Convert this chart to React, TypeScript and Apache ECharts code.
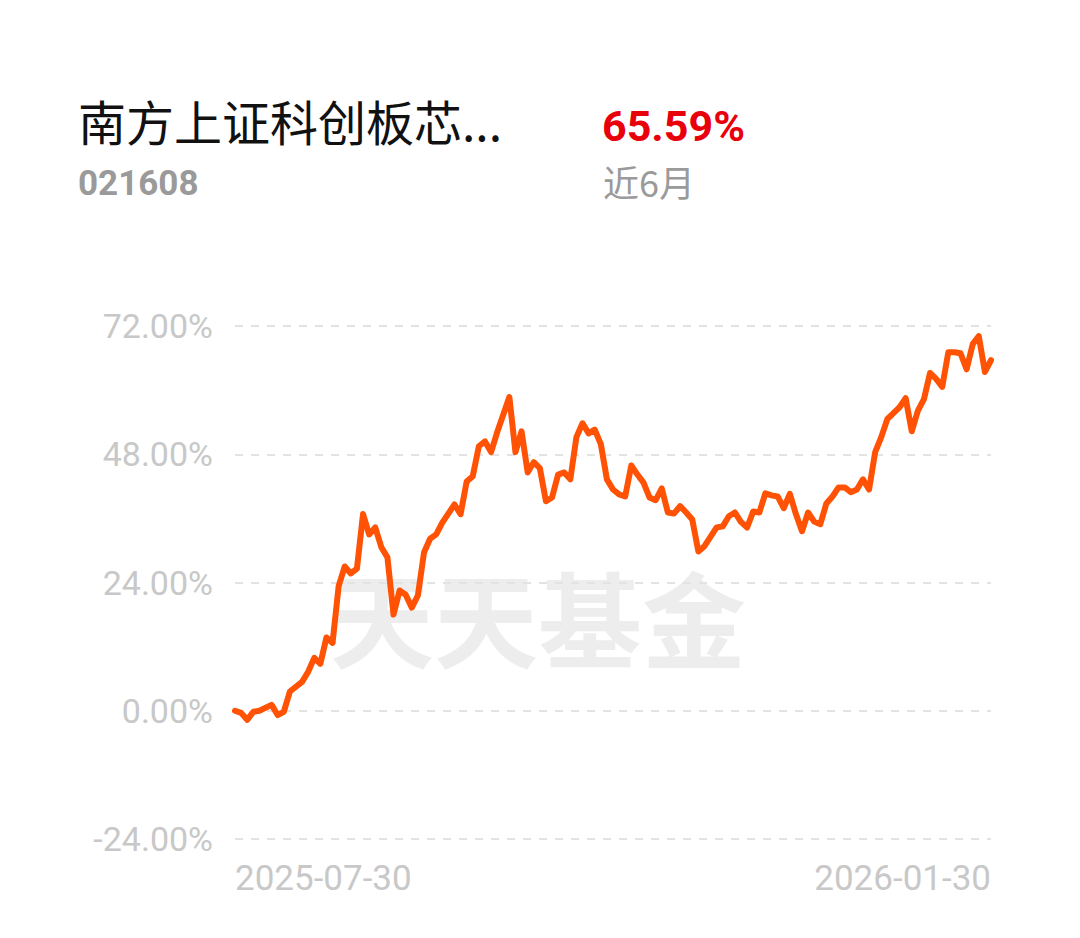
import React, { useEffect, useRef } from "react";
import * as echarts from "echarts";

// trading-day index (0 = 2025-07-30, 124 = 2026-01-30)
const dayIndex = [
  0, 1, 2, 3, 4, 6, 7, 8, 9, 11, 12, 13, 14, 15, 16, 17, 18, 19, 20, 21,
  22, 23, 24, 25, 26, 27, 28, 29, 30, 31, 32, 33, 34, 36, 37, 38, 39, 40, 41, 42,
  43, 45, 46, 47, 48, 49, 50, 51, 52, 53, 54, 55, 56, 57, 58, 59, 60, 61, 62, 63,
  64, 65, 66, 67, 68, 69, 70, 71, 72, 73, 74, 75, 76, 77, 79, 80, 81, 82, 83, 84,
  85, 86, 87, 88, 89, 90, 91, 92, 93, 94, 95, 96, 97, 98, 99, 100, 101, 102, 103, 104,
  105, 106, 107, 108, 109, 110, 111, 112, 113, 114, 115, 116, 117, 118, 119, 120, 121, 122, 123, 124,
];
// cumulative return, %
const returns = [
  0.0, -0.4, -1.7, -0.2, 0.0, 1.1, -0.8, -0.2, 3.6, 5.4, 7.3, 9.9, 8.8, 13.7, 12.7, 23.3, 27.0, 25.7, 26.6, 36.8,
  33.0, 34.3, 30.6, 28.7, 18.0, 22.5, 21.7, 19.3, 21.6, 29.6, 32.2, 33.0, 35.2, 38.6, 36.8, 42.9, 43.9, 49.5, 50.4, 48.4,
  52.1, 58.7, 48.4, 52.3, 44.6, 46.5, 45.4, 39.2, 39.9, 44.2, 44.6, 43.3, 51.2, 53.8, 51.9, 52.6, 49.9, 43.3, 41.4, 40.5,
  40.1, 45.9, 44.2, 42.7, 39.9, 39.4, 41.6, 37.1, 36.9, 38.3, 37.1, 35.8, 29.8, 30.8, 34.3, 34.5, 36.4, 37.1, 35.3, 34.3,
  37.3, 37.1, 40.7, 40.3, 40.1, 37.9, 40.6, 36.8, 33.6, 37.1, 35.4, 34.9, 38.8, 40.1, 41.8, 41.8, 40.9, 41.4, 43.3, 41.4,
  48.4, 51.2, 54.6, 55.7, 56.8, 58.5, 52.3, 56.1, 58.3, 63.2, 62.1, 60.6, 67.1, 67.1, 66.9, 63.9, 68.6, 70.1, 63.4, 65.59,
];
const xTickLabels = ["2025-07-30", "2026-01-30"];
const yTicks = { min: -24, max: 72, interval: 24 };

const fundName = "南方上证科创板芯...";
const fundCode = "021608";
const periodReturn = "65.59%";
const periodLabel = "近6月";
const watermark = "天天基金";

export default function App() {
  const ref = useRef<HTMLDivElement>(null);
  useEffect(() => {
    if (!ref.current) return;
    const chart = echarts.init(ref.current, undefined, { renderer: "svg" });
    const lastIdx = dayIndex[dayIndex.length - 1];
    chart.setOption({
      animation: false,
      backgroundColor: "#ffffff",
      grid: { left: 235, right: 89, top: 326, bottom: 99, containLabel: false },
      graphic: [
        {
          type: "text", left: 78, top: 96, z: 10,
          style: { text: fundName, font: '48px "Noto Sans CJK SC"', fill: "#111111" },
        },
        {
          type: "text", left: 78, top: 166, z: 10,
          style: { text: fundCode, font: 'bold 35px Roboto', fill: "#9a9a9a" },
        },
        {
          type: "text", left: 602, top: 104, z: 10,
          style: { text: periodReturn, font: 'bold 43px Roboto', fill: "#e8000b" },
        },
        {
          type: "text", left: 603, top: 163, z: 10,
          style: { text: periodLabel, font: '36px "Noto Sans CJK SC"', fill: "#9a9a9a" },
        },
        {
          type: "text", left: 330, top: 563, z: -10, silent: true,
          style: { text: watermark, font: 'bold 104px "Noto Sans CJK SC"', fill: "#ededed" },
        },
      ],
      xAxis: {
        type: "value",
        min: 0,
        max: lastIdx,
        interval: lastIdx,
        axisLine: { show: false },
        axisTick: { show: false },
        splitLine: { show: false },
        axisLabel: {
          margin: 22,
          color: "#c8c8c8",
          fontSize: 35,
          fontFamily: "Roboto",
          alignMinLabel: "left",
          alignMaxLabel: "right",
          formatter: (v: number) => (v === 0 ? xTickLabels[0] : xTickLabels[1]),
        },
      },
      yAxis: {
        type: "value",
        min: yTicks.min,
        max: yTicks.max,
        interval: yTicks.interval,
        axisLine: { show: false },
        axisTick: { show: false },
        axisLabel: {
          margin: 22,
          color: "#c8c8c8",
          fontSize: 34,
          fontFamily: "Roboto",
          formatter: (v: number) => v.toFixed(2) + "%",
        },
        splitLine: { lineStyle: { color: "#e3e3e3", width: 2, type: [8, 8] } },
      },
      series: [
        {
          type: "line",
          data: dayIndex.map((d, i) => [d, returns[i]]),
          showSymbol: false,
          z: 5,
          lineStyle: { color: "#ff5205", width: 6, join: "round", cap: "round" },
        },
      ],
    });
    return () => chart.dispose();
  }, []);
  return (
    <div
      ref={ref}
      style={{ position: "absolute", left: 0, top: 0, width: 1080, height: 938, background: "#fff" }}
    />
  );
}
